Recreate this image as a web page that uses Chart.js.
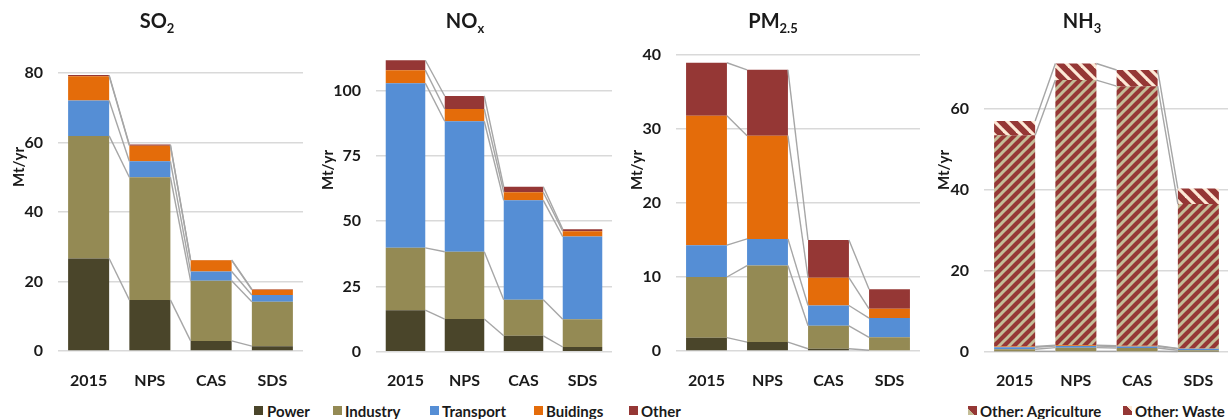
<!DOCTYPE html>
<html>
<head>
<meta charset="utf-8">
<script src="https://cdn.jsdelivr.net/npm/chart.js@4.4.1/dist/chart.umd.min.js"></script>
<style>
  html, body { margin: 0; padding: 0; background: #ffffff; overflow: hidden; }
  body { width: 1228px; height: 419px; position: relative; font-family: Lato, "Open Sans", sans-serif; color: #1a1a1a; }
  canvas { position: absolute; top: 0; }
  .ttl { position: absolute; top: 8px; width: 120px; text-align: center; font-weight: 700; font-size: 20px; line-height: 24px; }
  .ttl sub { font-size: 13px; vertical-align: -5px; line-height: 0; }
  .ytitle { position: absolute; width: 70px; height: 18px; line-height: 18px; text-align: center; font-weight: 700; font-size: 15px; transform: rotate(-90deg); }
  .lg { position: absolute; top: 402px; font-weight: 700; font-size: 15px; line-height: 18px; white-space: nowrap; }
  .mk { position: absolute; width: 9px; height: 9px; }
</style>
</head>
<body>

<canvas id="cSO2" width="310" height="395" style="left:0px"></canvas>
<canvas id="cNOx" width="305" height="395" style="left:310px"></canvas>
<canvas id="cPM" width="310" height="395" style="left:615px"></canvas>
<canvas id="cNH3" width="304" height="395" style="left:925px"></canvas>

<div class="ttl" style="left:97px">SO<sub>2</sub></div>
<div class="ttl" style="left:405px">NO<sub>x</sub></div>
<div class="ttl" style="left:713px">PM<sub>2.5</sub></div>
<div class="ttl" style="left:1022px">NH<sub>3</sub></div>

<div class="ytitle" style="left:-17px; top:158px">Mt/yr</div>
<div class="ytitle" style="left:292px; top:161px">Mt/yr</div>
<div class="ytitle" style="left:601px; top:161px">Mt/yr</div>
<div class="ytitle" style="left:908px; top:161px">Mt/yr</div>

<div id="legend"></div>

<script>
// Scenario categories
const categories = ['2015', 'NPS', 'CAS', 'SDS'];

// SO2 emissions by sector, Mt/yr
const so2Power     = [26.6, 14.7, 2.9, 1.4];
const so2Industry  = [35.3, 35.3, 17.3, 12.8];
const so2Transport = [10.2, 4.6, 2.7, 1.9];
const so2Buildings = [7.0, 4.5, 3.2, 1.5];
const so2Other     = [0.3, 0.3, 0.1, 0.2];

// NOx emissions by sector, Mt/yr
const noxPower     = [15.9, 12.5, 6.1, 1.8];
const noxIndustry  = [23.9, 25.8, 13.8, 10.6];
const noxTransport = [63.1, 50.0, 38.1, 31.7];
const noxBuildings = [5.0, 4.7, 3.1, 2.1];
const noxOther     = [3.8, 5.0, 2.1, 0.7];

// PM2.5 emissions by sector, Mt/yr
const pmPower     = [1.8, 1.2, 0.3, 0.1];
const pmIndustry  = [8.2, 10.35, 3.1, 1.75];
const pmTransport = [4.3, 3.6, 2.75, 2.6];
const pmBuildings = [17.5, 13.95, 3.75, 1.25];
const pmOther     = [7.15, 8.9, 5.1, 2.65];

// NH3 emissions by sector, Mt/yr
const nh3Power       = [0.1, 0.1, 0.1, 0.05];
const nh3Industry    = [0.5, 0.9, 0.8, 0.3];
const nh3Transport   = [0.5, 0.4, 0.4, 0.4];
const nh3Buildings   = [0.2, 0.2, 0.2, 0.05];
const nh3Agriculture = [52.2, 65.5, 64.1, 35.7];
const nh3Waste       = [3.5, 4.1, 4.0, 3.8];

// Tick steps per pollutant axis
const so2Step = 20, noxStep = 25, pmStep = 10, nh3Step = 20;

const sectorNames = ['Power', 'Industry', 'Transport', 'Buidings', 'Other'];
const sectorColors = ['#4a452a', '#948a54', '#558ed5', '#e46c0a', '#953735'];

// Striped fills for the NH3 "Other" split
function stripePattern(bg, fg, dir, size, lw) {
  const c = document.createElement('canvas');
  c.width = size; c.height = size;
  const g = c.getContext('2d');
  g.fillStyle = bg; g.fillRect(0, 0, size, size);
  g.strokeStyle = fg; g.lineWidth = lw; g.lineCap = 'square';
  const seg = (x1, y1, x2, y2) => { g.beginPath(); g.moveTo(x1, y1); g.lineTo(x2, y2); g.stroke(); };
  for (const o of [-size, 0, size]) {
    if (dir === '/') seg(o, size, o + size, 0);
    else seg(o, 0, o + size, size);
  }
  return g.createPattern(c, 'repeat');
}
const agriFill  = stripePattern('#953735', '#c4bd97', '/', 10, 3.0);
const wasteFill = stripePattern('#953735', '#fde9d6', '\\', 13, 3.2);

// Grey lines joining each segment top across neighbouring bars
const connectors = {
  id: 'connectors',
  afterDatasetsDraw(chart) {
    const ctx = chart.ctx;
    ctx.save();
    ctx.strokeStyle = '#a6a6a6';
    ctx.lineWidth = 1.4;
    chart.getSortedVisibleDatasetMetas().forEach(meta => {
      for (let i = 0; i < meta.data.length - 1; i++) {
        const a = meta.data[i].getProps(['x', 'y', 'width'], true);
        const b = meta.data[i + 1].getProps(['x', 'y', 'width'], true);
        ctx.beginPath();
        ctx.moveTo(a.x + a.width / 2, a.y);
        ctx.lineTo(b.x - b.width / 2, b.y);
        ctx.stroke();
      }
    });
    ctx.restore();
  }
};

const tickFont = { family: 'Lato', size: 16, weight: 'bold' };

function makeChart(id, series, fills, opts) {
  const datasets = series.map((vals, k) => ({
    label: opts.labels[k],
    data: vals,
    backgroundColor: fills[k],
    borderWidth: 0,
    barPercentage: 0.67,
    categoryPercentage: 1.0
  }));
  return new Chart(document.getElementById(id), {
    type: 'bar',
    data: { labels: categories, datasets },
    plugins: [connectors],
    options: {
      responsive: false,
      animation: false,
      devicePixelRatio: 1,
      layout: { padding: { top: opts.top, right: opts.right, bottom: 0, left: 0 } },
      plugins: { legend: { display: false }, tooltip: { enabled: false } },
      scales: {
        x: {
          stacked: true,
          grid: { display: false },
          border: { display: false },
          ticks: { font: tickFont, color: '#1a1a1a', padding: 12, maxRotation: 0 },
          afterFit(s) { s.height = 395 - opts.bottom; }
        },
        y: {
          stacked: true,
          min: 0,
          max: opts.max,
          grid: { color: '#d9d9d9', lineWidth: 1.6, drawTicks: false },
          border: { display: false },
          ticks: { stepSize: opts.step, includeBounds: false, font: tickFont, color: '#1a1a1a', padding: 15 },
          afterFit(s) { s.width = opts.yWidth; }
        }
      }
    }
  });
}

makeChart('cSO2', [so2Power, so2Industry, so2Transport, so2Buildings, so2Other], sectorColors,
  { labels: sectorNames, max: 80, step: so2Step, top: 73, bottom: 351, right: 7, yWidth: 58 });

makeChart('cNOx', [noxPower, noxIndustry, noxTransport, noxBuildings, noxOther], sectorColors,
  { labels: sectorNames, max: 113.7, step: noxStep, top: 55, bottom: 351.7, right: 3, yWidth: 66 });

makeChart('cPM', [pmPower, pmIndustry, pmTransport, pmBuildings, pmOther], sectorColors,
  { labels: sectorNames, max: 40, step: pmStep, top: 55, bottom: 351, right: 5, yWidth: 61 });

makeChart('cNH3', [nh3Power, nh3Industry, nh3Transport, nh3Buildings, nh3Agriculture, nh3Waste],
  sectorColors.slice(0, 4).concat([agriFill, wasteFill]),
  { labels: sectorNames.slice(0, 4).concat(['Other: Agriculture', 'Other: Waste']),
    max: 73.3, step: nh3Step, top: 55, bottom: 351.7, right: 0, yWidth: 59 });

// Legend rows
const legendItems = [
  { text: 'Power',     mk: 254,  tx: 267,  bg: sectorColors[0] },
  { text: 'Industry',  mk: 333,  tx: 345,  bg: sectorColors[1] },
  { text: 'Transport', mk: 430,  tx: 442,  bg: sectorColors[2] },
  { text: 'Buidings',  mk: 534,  tx: 546,  bg: sectorColors[3] },
  { text: 'Other',     mk: 629,  tx: 641,  bg: sectorColors[4] },
  { text: 'Other: Agriculture', mk: 968, tx: 980, bg: 'linear-gradient(to top right, #c4bd97 0 38%, #953735 38%)' },
  { text: 'Other: Waste',       mk: 1123, tx: 1135, bg: 'linear-gradient(to bottom left, #fde9d6 0 30%, #953735 30%)' }
];
const lg = document.getElementById('legend');
legendItems.forEach(it => {
  const m = document.createElement('div');
  m.className = 'mk';
  m.style.left = it.mk + 'px';
  m.style.top = '406px';
  m.style.background = it.bg;
  lg.appendChild(m);
  const t = document.createElement('div');
  t.className = 'lg';
  t.style.left = it.tx + 'px';
  t.textContent = it.text;
  lg.appendChild(t);
});
</script>
</body>
</html>
